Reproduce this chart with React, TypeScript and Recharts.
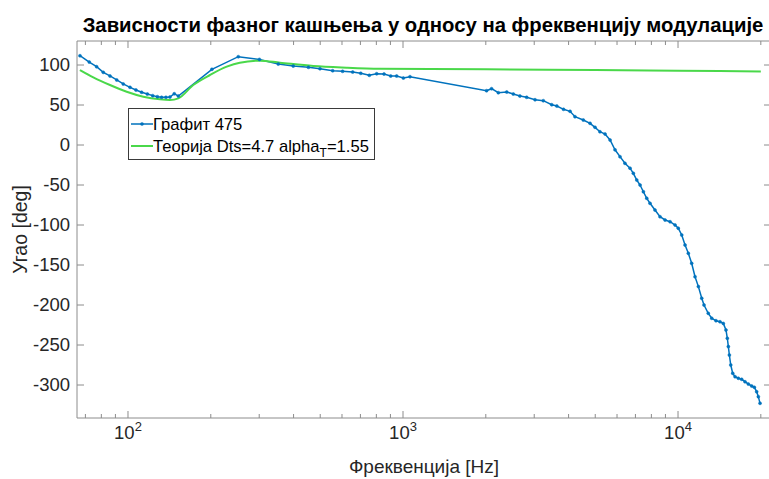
import React from "react";
import { Legend, Line, LineChart, ReferenceLine, XAxis, YAxis } from "recharts";

// measured series (frequency in Hz, phase in deg)
const measFreq = [
  66.9, 72.3, 76.9, 81.3, 86.0, 91.0, 96.1, 101.7, 106.9, 112.1, 117.6, 123, 127.9, 132.5, 137.4, 142.1,
  147.3, 152.4, 201.9, 251.8, 300.6, 352, 399, 453, 499, 555, 603, 656, 702, 754, 802, 853, 902, 948,
  1003, 1060, 2013, 2099, 2221, 2383, 2518, 2661, 2816, 3021, 3237, 3474, 3625, 3834, 4049, 4220, 4524,
  4787, 4991, 5200, 5428, 5661, 5901, 6152, 6412, 6691, 6880, 7079, 7278, 7482, 7696, 7909, 8245, 8600,
  8971, 9357, 9755, 10020, 10316, 10605, 10902, 11210, 11530, 11860, 12196, 12430, 12880, 13260, 13740,
  14210, 14610, 14940, 15110, 15240, 15370, 15550, 15810, 16120, 16570, 17040, 17520, 18010, 18530,
  18950, 19320, 19590, 19870,
];
const measPhase = [
  111.6, 103.7, 97.9, 90.8, 86.3, 81.3, 76.3, 72.1, 68.8, 65.9, 63.7, 61.7, 60.4, 59.6, 59.6, 60, 64.1,
  61.2, 94.6, 110.4, 107, 101.2, 98.7, 97.1, 95.4, 92.9, 92.1, 91.2, 89.6, 87.1, 89.1, 88.75, 86.25,
  86.25, 83.75, 85.4, 67.9, 70.4, 65.4, 66.25, 63.75, 61.25, 59.6, 56.6, 55.4, 50.4, 48.75, 44.6, 42.1,
  35.4, 31.25, 27.1, 22.1, 16.6, 13.75, 6.25, -6, -14.6, -22.9, -29, -35.4, -43.75, -50, -58.4, -66.6,
  -72.9, -81.25, -89.6, -93.75, -95.9, -100, -104, -112.5, -125, -135.4, -147.9, -164.6, -177, -191.6,
  -200, -210.4, -216.6, -219.6, -220.9, -223, -231.25, -241.6, -252, -262.5, -275, -285.4, -289.6,
  -291.6, -292.9, -295.9, -298.75, -301.25, -302.9, -308.4, -314.6, -322.9,
];

// theory curve
const theoryFreq = [66.9, 74.8, 86, 98.9, 113.7, 130.7, 142.1, 152.4, 172.7, 198.6, 228.6, 255, 302, 357, 472, 624, 824, 1253, 2000, 5000, 10000, 20000];
const theoryPhase = [93.75, 84.6, 75, 66.6, 60.4, 57.1, 56.25, 58.3, 75, 87.5, 97.9, 102.9, 105.4, 102.9, 98.75, 96.7, 95.4, 95, 94.6, 93.6, 92.8, 92];

const xTicks = [70, 80, 90, 100, 200, 300, 400, 500, 600, 700, 800, 900, 1000, 2000, 3000, 4000, 5000, 6000, 7000, 8000, 9000, 10000, 20000];
const yTicks = [-300, -250, -200, -150, -100, -50, 0, 50, 100];

const measData = measFreq.map((f, i) => ({ f, v: measPhase[i] }));
const theoryData = theoryFreq.map((f, i) => ({ f, v: theoryPhase[i] }));

const PLOT_W = 694;
const PLOT_H = 377;
const AXIS = "#8c8c8c";
const TEXT = "#262626";
const BLUE = "#0072BD";
const GREEN = "#4ad84a";
const FONT = "'Liberation Sans', Arial, sans-serif";

function XTick({ x, y, payload }: any) {
  const lg = Math.log10(payload.value);
  const exp = Math.round(lg);
  const major = Math.abs(lg - exp) < 1e-6;
  const len = major ? 7 : 4;
  return (
    <g>
      <line x1={x} x2={x} y1={y} y2={y - len} stroke={AXIS} />
      <line x1={x} x2={x} y1={y - PLOT_H} y2={y - PLOT_H + len} stroke={AXIS} />
      {major && (
        <text x={x} y={y + 21} textAnchor="middle" fontSize={18.5} fill={TEXT} fontFamily={FONT}>
          10<tspan dy={-8} fontSize={13}>{exp}</tspan>
        </text>
      )}
    </g>
  );
}

function YTick({ x, y, payload }: any) {
  return (
    <g>
      <line x1={x} x2={x + 7} y1={y} y2={y} stroke={AXIS} />
      <line x1={x + PLOT_W} x2={x + PLOT_W - 7} y1={y} y2={y} stroke={AXIS} />
      <text x={x - 7} y={y} dy="0.35em" textAnchor="end" fontSize={18.5} fill={TEXT} fontFamily={FONT}>
        {payload.value}
      </text>
    </g>
  );
}

function LegendBox() {
  return (
    <div
      style={{
        width: 245,
        height: 50,
        border: "1px solid #3a3a3a",
        background: "#fff",
        fontFamily: FONT,
        color: "#000",
      }}
    >
      <svg width={245} height={50} style={{ display: "block" }}>
        <line x1={2} x2={24} y1={15} y2={15} stroke={BLUE} strokeWidth={1.5} />
        <circle cx={13} cy={15} r={1.8} fill={BLUE} />
        <text x={24} y={15} dy="0.35em" fontSize={16.6} fill="#000">Графит 475</text>
        <line x1={2} x2={24} y1={37} y2={37} stroke={GREEN} strokeWidth={2} />
        <text x={24} y={37} dy="0.35em" fontSize={16.6} fill="#000">
          Теорија Dts=4.7 alpha<tspan dy={5} fontSize={12}>T</tspan><tspan dy={-5}>=1.55</tspan>
        </text>
      </svg>
    </div>
  );
}

export default function App() {
  return (
    <div style={{ position: "absolute", left: 0, top: 0, width: 769, height: 479, overflow: "hidden", background: "#fff" }}>
      <div
        style={{
          position: "absolute",
          left: 0,
          top: 13,
          width: 846,
          textAlign: "center",
          fontFamily: FONT,
          fontWeight: "bold",
          fontSize: 20.3,
          lineHeight: "24px",
          color: "#000",
          whiteSpace: "nowrap",
        }}
      >
        Зависности фазног кашњења у односу на фреквенцију модулације
      </div>
      <LineChart width={775} height={479} margin={{ top: 41, right: 4, bottom: 21, left: 17 }}>
        <XAxis
          dataKey="f"
          type="number"
          scale="log"
          domain={[65.25, 21780]}
          allowDataOverflow
          ticks={xTicks}
          interval={0}
          tick={<XTick />}
          tickLine={false}
          tickSize={0}
          tickMargin={0}
          height={40}
          stroke={AXIS}
          label={{ value: "Фреквенција [Hz]", position: "bottom", offset: 2, fontSize: 19, fill: TEXT, fontFamily: FONT }}
        />
        <YAxis
          type="number"
          domain={[-341.25, 130]}
          allowDataOverflow
          ticks={yTicks}
          interval={0}
          tick={<YTick />}
          tickLine={false}
          tickSize={0}
          tickMargin={0}
          width={60}
          stroke={AXIS}
          label={{ value: "Угао [deg]", angle: -90, position: "insideLeft", offset: 3, textAnchor: "middle", fontSize: 19.5, fill: TEXT, fontFamily: FONT }}
        />
        <ReferenceLine y={130} stroke={AXIS} />
        <Line
          data={measData}
          dataKey="v"
          stroke={BLUE}
          strokeWidth={1.5}
          dot={{ r: 1.5, fill: BLUE, stroke: BLUE, strokeWidth: 0.5 }}
          type="linear"
          isAnimationActive={false}
        />
        <Line data={theoryData} dataKey="v" stroke={GREEN} strokeWidth={2} dot={false} type="monotone" isAnimationActive={false} />
        <Legend
          layout="horizontal"
          verticalAlign="middle"
          align="center"
          content={() => <LegendBox />}
          wrapperStyle={{ left: 128, top: 108, width: 247, height: 52 }}
        />
      </LineChart>
    </div>
  );
}
